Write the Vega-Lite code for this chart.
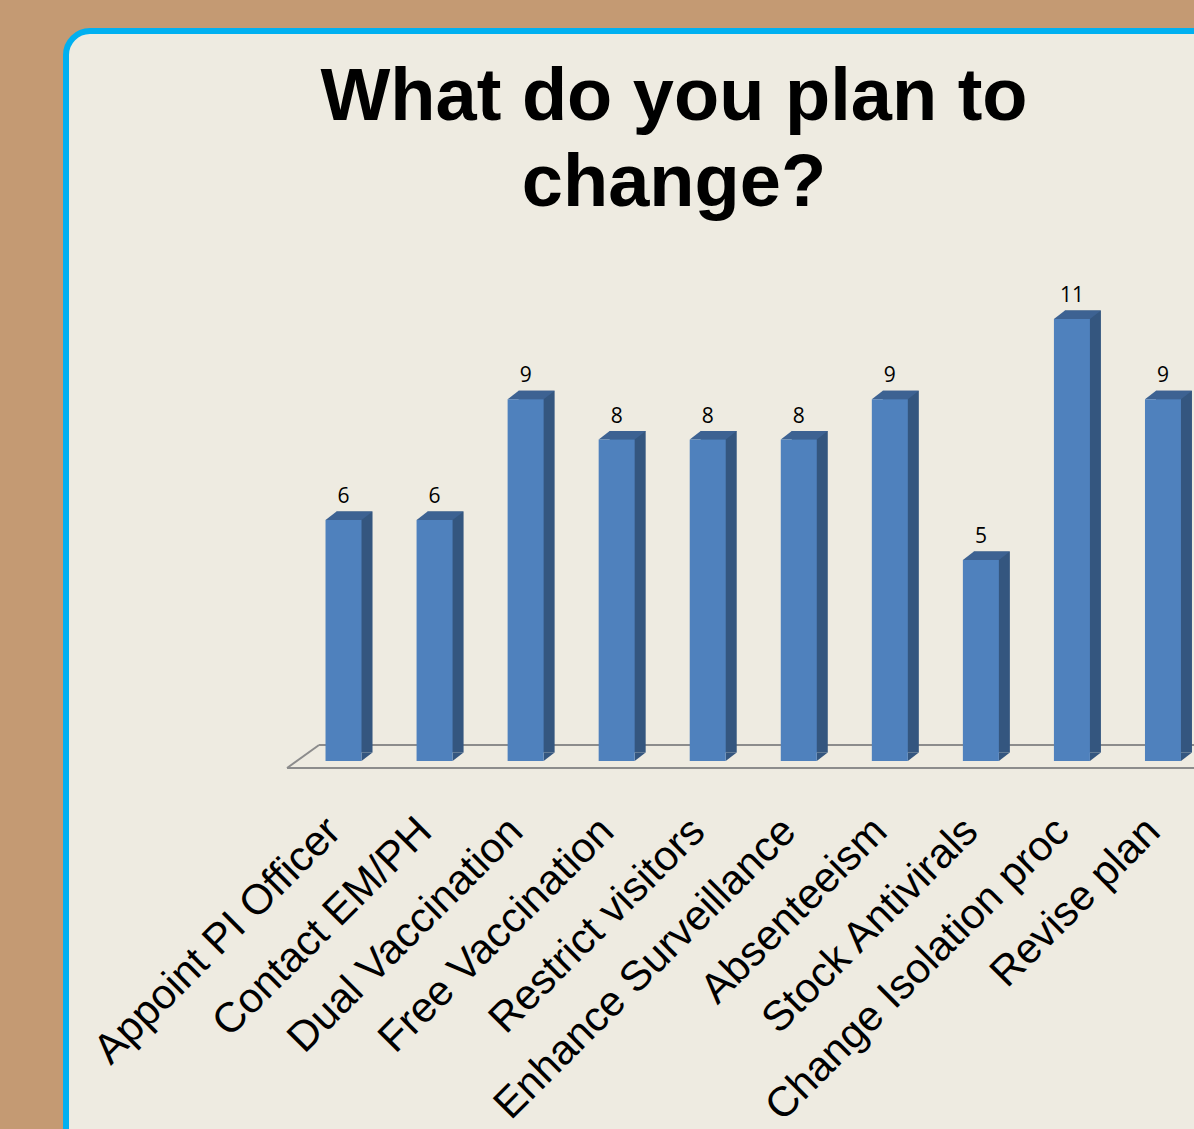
{
  "$schema": "https://vega.github.io/schema/vega-lite/v6.json",
  "autosize": {"type": "none"},
  "padding": {"left": 66, "top": 31, "right": -32, "bottom": -32},
  "width": 1160,
  "height": 1130,
  "background": "#C49A73",
  "view": {"fill": "#EEEBE1", "stroke": "#00B0F0", "strokeWidth": 6, "cornerRadius": 24},
  "config": {
    "axisX": {"orient": "bottom", "offset": -351, "labelAngle": -45, "labelAlign": "right", "labelBaseline": "top",
              "labelFont": "Liberation Sans", "labelFontSize": 42, "labelColor": "#000000", "labelPadding": 0, "labelOffset": -24,
              "ticks": false, "domain": false, "grid": false, "labelLimit": 0, "labelOverlap": false},
    "axisY": {"disable": true}
  },
  "title": {
    "text": ["What do you plan to", "change?"],
    "font": "Liberation Sans",
    "fontSize": 74,
    "fontWeight": "bold",
    "color": "#000000",
    "anchor": "middle",
    "frame": "group",
    "offset": 0,
    "baseline": "alphabetic",
    "lineHeight": 86,
    "dx": 28,
    "dy": 249
  },
  "data": {
    "values": [
      {"cat": "Appoint PI Officer", "v": 6},
      {"cat": "Contact EM/PH", "v": 6},
      {"cat": "Dual Vaccination", "v": 9},
      {"cat": "Free Vaccination", "v": 8},
      {"cat": "Restrict visitors", "v": 8},
      {"cat": "Enhance Surveillance", "v": 8},
      {"cat": "Absenteeism", "v": 9},
      {"cat": "Stock Antivirals", "v": 5},
      {"cat": "Change Isolation proc", "v": 11},
      {"cat": "Revise plan", "v": 9}
    ]
  },
  "layer": [
    {
      "data": {"values": [{"floor": 1}]},
      "mark": {"type": "rule", "color": "#8C8C8C", "strokeWidth": 2, "xOffset": -56.5, "x2Offset": 40, "yOffset": 7},
      "encoding": {
        "x": {"datum": "Appoint PI Officer", "type": "nominal", "title": null,
              "scale": {"domain": ["Appoint PI Officer", "Contact EM/PH", "Dual Vaccination", "Free Vaccination", "Restrict visitors", "Enhance Surveillance", "Absenteeism", "Stock Antivirals", "Change Isolation proc", "Revise plan"],
                        "range": [232, 1142.5], "paddingInner": 0, "paddingOuter": 0}},
        "x2": {"datum": "Revise plan"},
        "y": {"datum": 0, "type": "quantitative",
              "scale": {"domain": [0, 11], "range": [730, 288], "nice": false, "zero": true}}
      }
    },
    {
      "data": {"values": [{"floor": 1}]},
      "mark": {"type": "rule", "color": "#8C8C8C", "strokeWidth": 2, "xOffset": -24.5, "x2Offset": 40, "yOffset": -16},
      "encoding": {
        "x": {"datum": "Appoint PI Officer", "type": "nominal", "title": null},
        "x2": {"datum": "Revise plan"},
        "y": {"datum": 0, "type": "quantitative"}
      }
    },
    {
      "data": {"values": [{"floor": 1}]},
      "mark": {"type": "rule", "color": "#8C8C8C", "strokeWidth": 2, "xOffset": -56.5, "x2Offset": -24.5, "yOffset": 7, "y2Offset": -16},
      "encoding": {
        "x": {"datum": "Appoint PI Officer", "type": "nominal", "title": null},
        "x2": {"datum": "Appoint PI Officer"},
        "y": {"datum": 0, "type": "quantitative"},
        "y2": {"datum": 0}
      }
    },
    {
      "mark": {"type": "bar", "width": 36, "color": "#34567F", "xOffset": 11, "yOffset": -8.5, "y2Offset": -8.5},
      "encoding": {
        "x": {"field": "cat", "type": "nominal", "sort": null, "title": null},
        "y": {"field": "v", "type": "quantitative"}
      }
    },
    {
      "mark": {"type": "point", "shape": "M 0.6207 0 L 1 -0.2931 L 0.6207 -0.2931 Z", "size": 3364, "filled": true, "opacity": 1, "strokeWidth": 0, "color": "#34567F"},
      "encoding": {
        "x": {"field": "cat", "type": "nominal", "sort": null, "title": null},
        "y": {"datum": 0, "type": "quantitative"}
      }
    },
    {
      "mark": {"type": "point", "shape": "M -0.6207 0 L 0.6207 0 L 1 -0.2931 L -0.2414 -0.2931 Z", "size": 3364, "filled": true, "opacity": 1, "strokeWidth": 0, "color": "#3D6292"},
      "encoding": {
        "x": {"field": "cat", "type": "nominal", "sort": null, "title": null},
        "y": {"field": "v", "type": "quantitative"}
      }
    },
    {
      "mark": {"type": "bar", "width": 36, "color": "#4F81BD"},
      "encoding": {
        "x": {"field": "cat", "type": "nominal", "sort": null, "title": null},
        "y": {"field": "v", "type": "quantitative"}
      }
    },
    {
      "mark": {"type": "text", "font": "Open Sans", "fontSize": 21, "color": "#000000", "baseline": "alphabetic", "align": "center", "dy": -17},
      "encoding": {
        "x": {"field": "cat", "type": "nominal", "sort": null, "title": null},
        "y": {"field": "v", "type": "quantitative"},
        "text": {"field": "v", "type": "quantitative"}
      }
    }
  ]
}
